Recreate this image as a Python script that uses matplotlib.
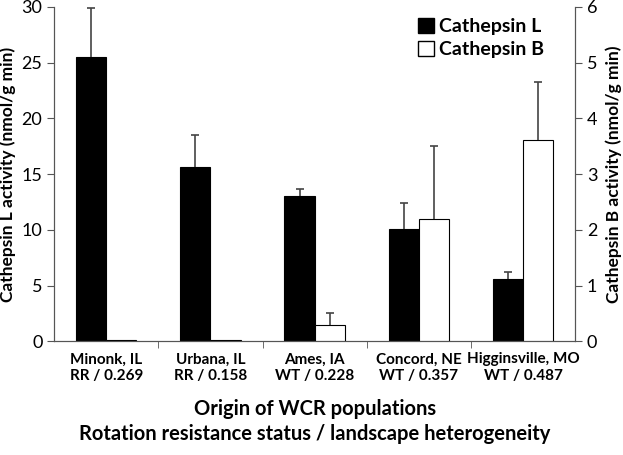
import numpy as np
import matplotlib.pyplot as plt
from matplotlib.patches import Patch

plt.rcParams['font.family'] = ['Lato', 'DejaVu Sans']

sites = ["Minonk, IL\nRR / 0.269", "Urbana, IL\nRR / 0.158", "Ames, IA\nWT / 0.228",
         "Concord, NE\nWT / 0.357", "Higginsville, MO\nWT / 0.487"]
cath_l = [25.5, 15.6, 13.0, 10.1, 5.6]
cath_l_err = [4.4, 2.9, 0.7, 2.3, 0.6]
cath_b = [0.02, 0.02, 0.30, 2.19, 3.61]
cath_b_err = [0.0, 0.0, 0.21, 1.31, 1.04]

x = np.arange(len(sites))
w = 0.29

fig = plt.figure(figsize=(6.23, 4.55), dpi=100)
ax = fig.add_axes([0.087, 0.25, 0.836, 0.735])
ax2 = ax.twinx()

ax.bar(x - w/2, cath_l, w, color="black", edgecolor="black", linewidth=0.8)
ax2.bar(x + w/2, cath_b, w, color="white", edgecolor="black", linewidth=0.8, zorder=2)

# upper error bars only
eb1 = ax.errorbar(x - w/2, cath_l, yerr=[np.zeros(5), cath_l_err], fmt="none",
                  ecolor="#444444", elinewidth=1.2, capsize=3, capthick=1.2)
eb2 = ax2.errorbar((x + w/2)[2:], cath_b[2:], yerr=[np.zeros(3), cath_b_err[2:]], fmt="none",
                   ecolor="#444444", elinewidth=1.2, capsize=3, capthick=1.2, zorder=3)
eb1[1][0].set_visible(False)
eb2[1][0].set_visible(False)

ax.set_xlim(-0.5, 4.5)
ax.set_ylim(0, 30)
ax2.set_ylim(0, 6)
ax.set_yticks([0, 5, 10, 15, 20, 25, 30])
ax2.set_yticks([0, 1, 2, 3, 4, 5, 6])

ax.set_xticks(x)
ax.set_xticklabels(sites, fontweight="bold", fontsize=11)
ax.set_xticks(np.arange(0.5, 4.5, 1), minor=True)
ax.tick_params(axis="x", which="major", length=0, pad=8)
ax.tick_params(axis="x", which="minor", length=5, color="#555555")
ax.tick_params(axis="y", labelsize=13, color="#555555", length=5)
ax2.tick_params(axis="y", labelsize=13, color="#555555", length=5)

for a in (ax, ax2):
    a.spines["top"].set_visible(False)
    for s in ("left", "right", "bottom"):
        a.spines[s].set_color("#555555")

ax.set_ylabel("Cathepsin L activity (nmol/g min)", fontweight="bold", fontsize=12.5, labelpad=4)
ax2.set_ylabel("Cathepsin B activity (nmol/g min)", fontweight="bold", fontsize=12.5, labelpad=6)
ax.set_xlabel("Origin of WCR populations\nRotation resistance status / landscape heterogeneity",
              fontweight="bold", fontsize=14.5, labelpad=12, linespacing=1.3)

handles = [Patch(facecolor="black", edgecolor="black", label="Cathepsin L"),
           Patch(facecolor="white", edgecolor="black", label="Cathepsin B")]
ax2.legend(handles=handles, loc="upper right", bbox_to_anchor=(0.975, 1.02), frameon=False,
           prop=dict(weight="bold", size=14), handlelength=0.8, handleheight=0.8,
           handletextpad=0.3, labelspacing=0.3)

fig.savefig("out.png", dpi=100)
